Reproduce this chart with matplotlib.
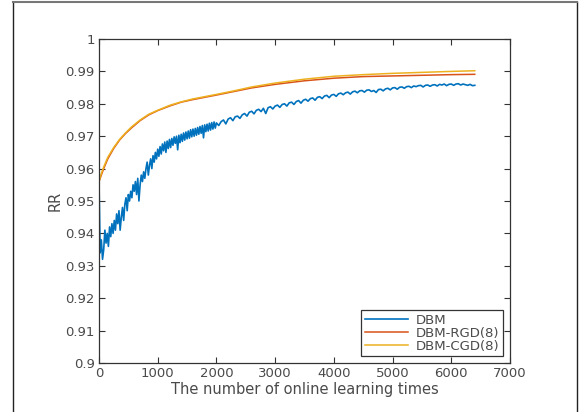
import numpy as np
import matplotlib
matplotlib.use("Agg")
import matplotlib.pyplot as plt
from matplotlib.lines import Line2D

plt.rcParams['font.family'] = ['DejaVu Sans']

# DBM, every 20 learning times from 0 to 1980
dbm_early = [
    0.956, 0.934, 0.938, 0.932, 0.935, 0.941, 0.937, 0.940, 0.936, 0.942,
    0.939, 0.943, 0.940, 0.944, 0.941, 0.946, 0.943, 0.947, 0.941, 0.945,
    0.948, 0.944, 0.949, 0.951, 0.947, 0.952, 0.950, 0.953, 0.951, 0.955,
    0.953, 0.956, 0.952, 0.957, 0.950, 0.955, 0.958, 0.956, 0.959, 0.957,
    0.960, 0.962, 0.958, 0.961, 0.963, 0.960, 0.964, 0.962, 0.965, 0.963,
    0.9660, 0.9638, 0.9668, 0.9645, 0.9676, 0.9655, 0.9682, 0.9650, 0.9685, 0.9662,
    0.9690, 0.9665, 0.9693, 0.9672, 0.9698, 0.9678, 0.9700, 0.9658, 0.9703, 0.9680,
    0.9706, 0.9684, 0.9710, 0.9688, 0.9713, 0.9692, 0.9716, 0.9694, 0.9720, 0.9698,
    0.9722, 0.9700, 0.9724, 0.9703, 0.9727, 0.9706, 0.9730, 0.9709, 0.9733, 0.9695,
    0.9735, 0.9714, 0.9737, 0.9716, 0.9740, 0.9719, 0.9742, 0.9722, 0.9744, 0.9725,
]
# DBM, every 40 learning times from 2000 to 6400
dbm_late = [
    0.9741, 0.9733, 0.9745, 0.9750, 0.9738, 0.9753, 0.9757, 0.9748, 0.9760, 0.9762,
    0.9755, 0.9766, 0.9770, 0.9762, 0.9774, 0.9777, 0.9769, 0.9780, 0.9783, 0.9776,
    0.9786, 0.9770, 0.9788, 0.9791, 0.9784, 0.9793, 0.9796, 0.9789, 0.9798, 0.9800,
    0.9793, 0.9803, 0.9805, 0.9798, 0.9807, 0.9810, 0.9802, 0.9811, 0.9814, 0.9808,
    0.9816, 0.9818, 0.9811, 0.9820, 0.9822, 0.9816, 0.9824, 0.9826, 0.9819, 0.9827,
    0.9829, 0.9823, 0.9831, 0.9833, 0.9828, 0.9834, 0.9836, 0.9830, 0.9837, 0.9839,
    0.9834, 0.9840, 0.9841, 0.9836, 0.9842, 0.9843, 0.9838, 0.9841, 0.9835, 0.9844,
    0.9845, 0.9840, 0.9846, 0.9848, 0.9843, 0.9849, 0.9850, 0.9845, 0.9851, 0.9852,
    0.9848, 0.9853, 0.9854, 0.9850, 0.9855, 0.9853, 0.9856, 0.9857, 0.9852, 0.9857,
    0.9858, 0.9854, 0.9858, 0.9859, 0.9855, 0.9860, 0.9858, 0.9861, 0.9856, 0.9860,
    0.9861, 0.9857, 0.9861, 0.9862, 0.9858, 0.9861, 0.9859, 0.9857, 0.9860, 0.9856,
    0.9857,
]
dbm_x = np.concatenate([np.arange(len(dbm_early)) * 20,
                        2000 + np.arange(len(dbm_late)) * 40])
dbm = dbm_early + dbm_late

gd_x = [0, 40, 80, 150, 250, 350, 450, 550, 700, 850, 1000, 1200, 1400,
        1600, 1800, 2000, 2300, 2600, 3000, 3500, 4000, 4500, 5000, 5500,
        6000, 6400]
rgd = [0.956, 0.958, 0.960, 0.963, 0.9662, 0.9688, 0.9708, 0.9725, 0.9748,
       0.9766, 0.9779, 0.9793, 0.9805, 0.9813, 0.9820, 0.9827, 0.9838,
       0.9849, 0.9860, 0.9871, 0.9879, 0.9884, 0.9886, 0.9888, 0.9890, 0.9891]
cgd = [0.956, 0.9585, 0.9605, 0.9635, 0.9665, 0.969, 0.971, 0.9728, 0.975,
       0.9768, 0.978, 0.9795, 0.9806, 0.9815, 0.9822, 0.9829, 0.9840,
       0.9852, 0.9864, 0.9876, 0.9885, 0.9890, 0.9894, 0.9897, 0.9900, 0.9902]

xticks = [0, 1000, 2000, 3000, 4000, 5000, 6000, 7000]
yticks = [0.9, 0.91, 0.92, 0.93, 0.94, 0.95, 0.96, 0.97, 0.98, 0.99, 1.0]
ytick_labels = ['0.9', '0.91', '0.92', '0.93', '0.94', '0.95', '0.96',
                '0.97', '0.98', '0.99', '1']

txt = '#4a4a4a'
fig = plt.figure(figsize=(5.87, 4.12), dpi=100)
ax = fig.add_axes([99/587, 1 - 363/412, 411/587, 324/412])

ax.plot(dbm_x, dbm, color='#0072BD', lw=1.2, label='DBM')
ax.plot(gd_x, rgd, color='#D95319', lw=1.1, label='DBM-RGD(8)')
ax.plot(gd_x, cgd, color='#EDB120', lw=1.1, label='DBM-CGD(8)')

ax.set_xlim(0, 7000)
ax.set_ylim(0.9, 1.0)
ax.set_xticks(xticks)
ax.set_yticks(yticks)
ax.set_yticklabels(ytick_labels)
ax.tick_params(direction='in', top=True, right=True, length=4, width=0.8,
               labelsize=9.5, labelcolor=txt, color='#333333', pad=3)
for s in ax.spines.values():
    s.set_color('#333333')
    s.set_linewidth(0.9)

ax.set_xlabel('The number of online learning times', fontsize=10.5, color=txt, labelpad=1)
ax.set_ylabel('RR', fontsize=10.5, color=txt, labelpad=2)

leg = ax.legend(loc='lower right', bbox_to_anchor=(0.983, 0.022), borderaxespad=0,
                fontsize=9.5, labelspacing=0.0, handlelength=3.3, handletextpad=0.6,
                borderpad=0.25, fancybox=False, framealpha=1)
leg.get_frame().set_edgecolor('#333333')
leg.get_frame().set_linewidth(0.9)
for t in leg.get_texts():
    t.set_color(txt)

# outer frame of the screenshot
fig.add_artist(Line2D([12.5/587, 12.5/587], [0, 1 - 1.5/412], transform=fig.transFigure, color='#222222', lw=1.0))
fig.add_artist(Line2D([577/587, 577/587], [0, 1 - 1.5/412], transform=fig.transFigure, color='#222222', lw=1.0))
fig.add_artist(Line2D([12.5/587, 577/587], [1 - 1.5/412, 1 - 1.5/412], transform=fig.transFigure, color='#777777', lw=1.5))

fig.savefig('out.png', dpi=100)
